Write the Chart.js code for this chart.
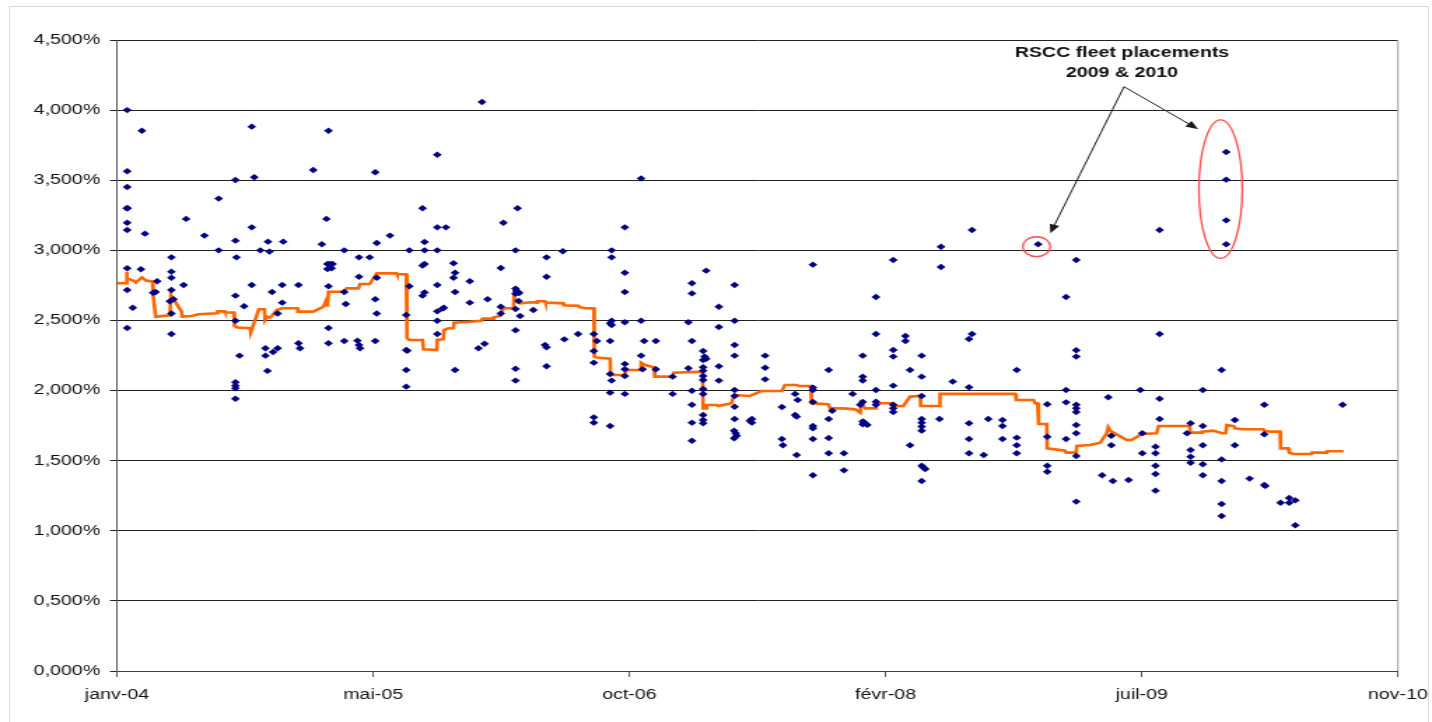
<!DOCTYPE html>
<html>
<head>
<meta charset="utf-8">
<title>RSCC fleet placements</title>
<script src="https://cdn.jsdelivr.net/npm/chart.js@4.4.1/dist/chart.umd.min.js"></script>
<style>
  html, body { margin: 0; padding: 0; background: #fff; overflow: hidden; }
  #frame { position: absolute; left: 9px; top: 6px; width: 1418px; height: 760px; border: 1px solid #d9d9d9; pointer-events: none; }
  #chart { position: absolute; left: 0; top: 0; }
</style>
</head>
<body>
<canvas id="chart" width="1023" height="722" style="width:1432px;height:722px"></canvas>
<div id="frame"></div>
<script>
// x = days since 1 Jan 2004, y = rate in %

// individual placements (blue diamonds)
const placementDays = [
  20, 49, 265, 416, 20, 386, 233, 270, 20, 200,
  19, 21, 136, 412, 20, 20, 265, 55, 172, 233,
  297, 327, 403, 200, 282, 300, 107, 235, 414, 414,
  20, 47, 107, 107, 79, 131, 265, 325, 357, 416,
  20, 107, 71, 76, 305, 233, 104, 111, 325, 31,
  250, 107, 316, 233, 416, 20, 107, 357, 360, 416,
  241, 292, 316, 307, 292, 296, 233, 233, 233, 233,

  718, 630, 508, 601, 788, 630, 647, 760, 537, 511,
  605, 447, 575, 605, 630, 784, 476, 497, 419, 424,
  422, 605, 601, 662, 755, 476, 511, 665, 662, 694,
  575, 630, 784, 786, 789, 784, 791, 447, 601, 605,
  665, 508, 729, 450, 694, 790, 755, 819, 784, 793,
  511, 569, 630, 643, 640, 755, 630, 784, 630, 447,
  473, 476, 478, 508, 569, 571, 711, 723, 569, 665,
  784, 784, 569,

  1031, 999, 973, 973, 845, 877, 845, 999, 999, 1159,
  1131, 1131, 1215, 1184, 1184, 973, 970, 973, 999, 1031,
  1124, 1215, 907, 880, 842, 845, 938, 944, 970, 1037,
  1060, 1131, 1215, 1215, 845, 938, 938, 1031, 1034, 999,
  999, 999, 1060, 970, 973, 1124, 1093, 1153, 1156, 1159,
  1153, 1153, 1153, 1153, 1153, 1153, 1153, 1184, 1184, 1131,
  970, 999, 1093, 1215, 1215, 1215, 938, 938, 970, 1131,
  1131, 1131, 1153, 1153, 1153, 1215, 1214, 1217, 1214, 1219,
  1245,

  1621, 1527, 1369, 1621, 1493, 1493, 1551, 1551, 1275, 1527,
  1527, 1467, 1583, 1275, 1400, 1560, 1275, 1467, 1467, 1583,
  1644, 1527, 1369, 1369, 1493, 1334, 1339, 1447, 1369, 1583,
  1462, 1467, 1493, 1493, 1527, 1527, 1527, 1308, 1407, 1249,
  1249, 1334, 1337, 1400, 1467, 1467, 1476, 1470, 1583, 1583,
  1583, 1583, 1618, 1369, 1369, 1308, 1310, 1369, 1400, 1560,
  1337, 1400, 1430, 1369, 1430, 1583, 1586, 1590, 1583,

  1682, 2051, 1812, 1887, 1867, 1682, 1676, 2051, 1887, 1887,
  1770, 1676, 1867, 2013, 1950, 2051, 1830, 1867, 1887, 1887,
  1887, 2051, 1714, 1742, 1742, 1676, 1887, 1887, 2017, 1676,
  1742, 1770, 1770, 1830, 1867, 1956, 1956, 2043, 2043, 1676,
  1705, 1770, 2017, 1887, 1830, 1830, 2043, 2043, 1938, 1959,
  1990, 2043, 1887,

  2182, 2182, 2182, 2182, 2173, 2136, 2257, 2411, 2199, 2112,
  2136, 2105, 2257, 2136, 2199, 2112, 2112, 2112, 2173, 2136,
  2136, 2173, 2228, 2257, 2259, 2173, 2173, 2289, 2306, 2306,
  2318, 2318
];
const placementRates = [
  4.000, 3.853, 3.882, 3.853, 3.564, 3.573, 3.502, 3.521, 3.452, 3.369,
  3.300, 3.300, 3.224, 3.224, 3.197, 3.145, 3.164, 3.119, 3.105, 3.069,
  3.062, 3.062, 3.043, 3.000, 3.000, 2.991, 2.950, 2.950, 2.903, 2.867,
  2.872, 2.865, 2.848, 2.805, 2.779, 2.753, 2.753, 2.753, 2.753, 2.744,
  2.717, 2.717, 2.698, 2.703, 2.703, 2.677, 2.637, 2.651, 2.627, 2.591,
  2.601, 2.549, 2.549, 2.498, 2.446, 2.446, 2.403, 2.337, 2.302, 2.337,
  2.249, 2.302, 2.302, 2.275, 2.249, 2.140, 2.059, 2.035, 2.016, 1.942,

  4.058, 3.682, 3.557, 3.300, 3.300, 3.164, 3.164, 3.197, 3.105, 3.052,
  3.059, 3.000, 3.000, 3.000, 3.000, 3.000, 2.950, 2.950, 2.903, 2.903,
  2.872, 2.903, 2.891, 2.908, 2.874, 2.812, 2.805, 2.840, 2.805, 2.779,
  2.744, 2.753, 2.727, 2.712, 2.703, 2.690, 2.695, 2.703, 2.677, 2.700,
  2.703, 2.651, 2.651, 2.617, 2.627, 2.639, 2.598, 2.575, 2.582, 2.532,
  2.549, 2.539, 2.565, 2.591, 2.584, 2.549, 2.498, 2.430, 2.403, 2.353,
  2.356, 2.325, 2.302, 2.353, 2.289, 2.284, 2.302, 2.334, 2.147, 2.147,
  2.156, 2.071, 2.028,

  3.513, 3.164, 3.000, 2.950, 2.950, 2.993, 2.812, 2.840, 2.703, 2.855,
  2.765, 2.693, 2.753, 2.598, 2.453, 2.498, 2.480, 2.468, 2.487, 2.498,
  2.487, 2.498, 2.403, 2.365, 2.325, 2.308, 2.403, 2.353, 2.353, 2.353,
  2.353, 2.353, 2.325, 2.249, 2.173, 2.282, 2.199, 2.249, 2.152, 2.190,
  2.152, 2.104, 2.152, 2.118, 2.071, 2.159, 2.099, 2.282, 2.242, 2.227,
  2.218, 2.166, 2.142, 2.104, 2.075, 2.011, 1.976, 2.173, 2.071, 1.999,
  1.985, 1.976, 1.976, 2.004, 1.961, 1.885, 1.809, 1.771, 1.747, 1.899,
  1.771, 1.642, 1.826, 1.790, 1.767, 1.797, 1.714, 1.695, 1.660, 1.678,
  1.785,

  3.026, 2.931, 2.898, 2.881, 2.667, 2.403, 2.389, 2.353, 2.249, 2.289,
  2.242, 2.249, 2.249, 2.163, 2.147, 2.147, 2.080, 2.099, 2.071, 2.099,
  2.064, 2.035, 2.021, 2.004, 2.004, 1.976, 1.933, 1.976, 1.918, 1.961,
  1.899, 1.918, 1.920, 1.899, 1.899, 1.873, 1.847, 1.883, 1.856, 1.797,
  1.771, 1.826, 1.814, 1.797, 1.780, 1.760, 1.755, 1.772, 1.797, 1.771,
  1.743, 1.714, 1.797, 1.747, 1.731, 1.655, 1.610, 1.655, 1.662, 1.610,
  1.540, 1.553, 1.553, 1.396, 1.431, 1.464, 1.453, 1.441, 1.355,

  3.145, 3.145, 3.043, 2.931, 2.667, 2.403, 2.368, 2.403, 2.287, 2.242,
  2.147, 2.024, 2.004, 2.004, 1.952, 1.942, 1.902, 1.916, 1.899, 1.873,
  1.847, 1.797, 1.797, 1.790, 1.747, 1.767, 1.754, 1.695, 1.695, 1.655,
  1.655, 1.664, 1.610, 1.671, 1.655, 1.678, 1.610, 1.600, 1.553, 1.553,
  1.540, 1.553, 1.553, 1.533, 1.464, 1.421, 1.464, 1.405, 1.396, 1.355,
  1.362, 1.286, 1.208,

  3.701, 3.504, 3.214, 3.043, 2.147, 2.004, 1.899, 1.899, 1.790, 1.767,
  1.747, 1.695, 1.688, 1.610, 1.610, 1.576, 1.528, 1.485, 1.509, 1.474,
  1.396, 1.355, 1.372, 1.327, 1.320, 1.191, 1.105, 1.200, 1.200, 1.234,
  1.217, 1.039
];

// running average (orange step line)
const avgDays = [
  0, 18, 19, 20, 32, 37, 49, 57, 70, 71, 76, 104, 106, 127, 128, 147, 160, 197, 198, 212,
  213, 230, 231, 237, 262, 263, 279, 290, 291, 295, 301, 308, 314, 325, 355, 356, 386, 406, 412, 414,
  416, 445, 452, 475, 478, 497, 511, 550, 551, 569, 570, 571, 575, 601, 603, 629, 630, 642, 643, 652,
  662, 663, 694, 717, 719, 740, 741, 753, 757, 760, 780, 781, 784, 793, 816, 826, 827, 842, 843, 878,
  879, 908, 911, 921, 938, 939, 944, 970, 971, 999, 1001, 1029, 1031, 1039, 1056, 1058, 1093, 1095, 1152, 1153,
  1159, 1160, 1180, 1183, 1209, 1214, 1245, 1249, 1268, 1308, 1314, 1337, 1341, 1365, 1366, 1399, 1403, 1429, 1452, 1462,
  1464, 1472, 1493, 1494, 1524, 1526, 1547, 1560, 1580, 1581, 1618, 1619, 1767, 1769, 1803, 1806, 1811, 1813, 1829, 1830,
  1865, 1867, 1887, 1888, 1914, 1934, 1947, 1950, 1954, 1980, 1986, 1996, 2016, 2045, 2049, 2110, 2112, 2133, 2135, 2156,
  2174, 2181, 2183, 2197, 2199, 2213, 2255, 2257, 2268, 2288, 2289, 2304, 2306, 2314, 2350, 2351, 2380, 2381, 2413
];
const avgRates = [
  2.765, 2.765, 2.848, 2.800, 2.784, 2.770, 2.807, 2.784, 2.777, 2.682, 2.527, 2.537, 2.682, 2.563, 2.527, 2.532, 2.544, 2.551, 2.565, 2.565,
  2.558, 2.556, 2.460, 2.450, 2.444, 2.413, 2.580, 2.580, 2.503, 2.527, 2.520, 2.546, 2.575, 2.587, 2.587, 2.563, 2.563, 2.598, 2.646, 2.598,
  2.705, 2.705, 2.729, 2.729, 2.760, 2.760, 2.836, 2.836, 2.829, 2.829, 2.408, 2.373, 2.361, 2.361, 2.294, 2.289, 2.361, 2.366, 2.432, 2.444,
  2.444, 2.484, 2.491, 2.498, 2.513, 2.513, 2.522, 2.532, 2.551, 2.587, 2.587, 2.669, 2.641, 2.622, 2.630, 2.627, 2.637, 2.637, 2.627, 2.622,
  2.608, 2.604, 2.594, 2.587, 2.587, 2.242, 2.235, 2.227, 2.111, 2.111, 2.147, 2.147, 2.199, 2.182, 2.166, 2.099, 2.099, 2.127, 2.135, 1.873,
  1.873, 1.897, 1.897, 1.890, 1.909, 1.968, 1.961, 1.968, 1.997, 1.997, 2.040, 2.040, 2.033, 2.033, 1.909, 1.902, 1.873, 1.873, 1.866, 1.842,
  1.909, 1.873, 1.873, 1.909, 1.909, 1.890, 1.890, 1.957, 1.961, 1.890, 1.890, 1.976, 1.976, 1.933, 1.933, 1.909, 1.909, 1.762, 1.762, 1.588,
  1.571, 1.557, 1.557, 1.605, 1.612, 1.628, 1.695, 1.738, 1.714, 1.660, 1.648, 1.648, 1.690, 1.695, 1.747, 1.747, 1.700, 1.700, 1.707, 1.714,
  1.695, 1.695, 1.754, 1.747, 1.731, 1.724, 1.724, 1.714, 1.707, 1.707, 1.588, 1.588, 1.557, 1.548, 1.548, 1.557, 1.557, 1.567, 1.567
];

// axis
const monthNames = ['janv', 'févr', 'mars', 'avr', 'mai', 'juin', 'juil', 'août', 'sept', 'oct', 'nov', 'déc'];
const axisStart = Date.UTC(2004, 0, 1);
const axisDays = 2520;
const axisStep = 504;

// annotation
const noteLines = ['RSCC fleet placements', '2009 & 2010'];
const noteAt = {day: 1977, rate: 4.407};
const arrowFrom = {day: 1981, rate: 4.167};
const arrowTips = [{day: 1836, rate: 3.121}, {day: 2127, rate: 3.863}];
const rings = [
  {day: 1809, rate: 3.026, dd: 27, dr: 0.071},
  {day: 2171, rate: 3.436, dd: 42.7, dr: 0.494}
];

function monthLabel(day) {
  const d = new Date(axisStart + day * 86400000);
  return monthNames[d.getUTCMonth()] + '-' + String(d.getUTCFullYear()).slice(2);
}

function pctLabel(v) {
  return v.toFixed(3).replace('.', ',') + '%';
}

const extras = {
  id: 'extras',
  afterDatasetsDraw(chart) {
    const {ctx, chartArea: a, scales: {x, y}} = chart;
    ctx.save();

    // right border of the plot
    ctx.strokeStyle = '#9a9a9a';
    ctx.lineWidth = 1;
    ctx.beginPath();
    ctx.moveTo(a.right, a.top);
    ctx.lineTo(a.right, a.bottom);
    ctx.stroke();

    // red rings
    ctx.strokeStyle = '#ff4d4d';
    ctx.lineWidth = 1.3;
    rings.forEach(r => {
      const cx = x.getPixelForValue(r.day), cy = y.getPixelForValue(r.rate);
      const rx = x.getPixelForValue(r.day + r.dd) - cx;
      const ry = cy - y.getPixelForValue(r.rate + r.dr);
      ctx.beginPath();
      ctx.ellipse(cx, cy, rx, ry, 0, 0, Math.PI * 2);
      ctx.stroke();
    });

    // arrows
    ctx.strokeStyle = '#1a1a1a';
    ctx.fillStyle = '#1a1a1a';
    ctx.lineWidth = 1;
    const fx = x.getPixelForValue(arrowFrom.day), fy = y.getPixelForValue(arrowFrom.rate);
    arrowTips.forEach(t => {
      const tx = x.getPixelForValue(t.day), ty = y.getPixelForValue(t.rate);
      const ang = Math.atan2(ty - fy, tx - fx);
      const len = 9, half = 3.6;
      const bx = tx - len * Math.cos(ang), by = ty - len * Math.sin(ang);
      ctx.beginPath();
      ctx.moveTo(fx, fy);
      ctx.lineTo(bx, by);
      ctx.stroke();
      ctx.beginPath();
      ctx.moveTo(tx, ty);
      ctx.lineTo(bx + half * Math.sin(ang), by - half * Math.cos(ang));
      ctx.lineTo(bx - half * Math.sin(ang), by + half * Math.cos(ang));
      ctx.closePath();
      ctx.fill();
    });

    // note text
    ctx.fillStyle = '#111';
    ctx.font = 'bold 14px "Liberation Sans", Arial, sans-serif';
    ctx.textAlign = 'center';
    ctx.textBaseline = 'middle';
    noteLines.forEach((t, i) => {
      ctx.fillText(t, x.getPixelForValue(noteAt.day), y.getPixelForValue(noteAt.rate) + i * 20);
    });

    ctx.restore();
  }
};

Chart.defaults.font.family = '"Liberation Sans", Arial, sans-serif';
Chart.defaults.color = '#111';

const ctx = document.getElementById('chart');

new Chart(ctx, {
  type: 'scatter',
  data: {
    datasets: [{
      label: 'Placements',
      data: placementDays.map((d, i) => ({x: d, y: placementRates[i]})),
      pointStyle: 'rectRot',
      pointRadius: 3.2,
      borderWidth: 0,
      pointBorderWidth: 0,
      backgroundColor: '#000080',
      borderColor: '#000080',
      order: 0
    },
    {
      label: 'Average',
      data: avgDays.map((d, i) => ({x: d, y: avgRates[i]})),
      showLine: true,
      borderColor: '#ff6600',
      borderWidth: 2.6,
      pointRadius: 0,
      tension: 0,
      order: 1
    }]
  },
  options: {
    responsive: false,
    animation: false,
    devicePixelRatio: 1,
    layout: {
      padding: {left: 0, right: 24.3, top: 40, bottom: 0}
    },
    plugins: {
      legend: {display: false},
      tooltip: {enabled: false}
    },
    scales: {
      x: {
        type: 'linear',
        min: 0,
        max: axisDays,
        afterFit(s) {
          s.height = 51;
          s.paddingLeft = 0;
          s.paddingRight = 0;
        },
        ticks: {
          stepSize: axisStep,
          autoSkip: false,
          maxRotation: 0,
          padding: 10,
          font: {size: 14},
          callback: v => monthLabel(v)
        },
        grid: {
          drawOnChartArea: false,
          drawTicks: true,
          tickLength: 6,
          color: '#555'
        },
        border: {color: '#444', width: 1}
      },
      y: {
        min: 0,
        max: 4.5,
        afterFit(s) { s.width = 83.58; },
        ticks: {
          stepSize: 0.5,
          padding: 7,
          font: {size: 14},
          callback: v => pctLabel(v)
        },
        grid: {
          color: '#222',
          lineWidth: 1,
          tickLength: 5
        },
        border: {color: '#555', width: 1}
      }
    }
  },
  plugins: [extras]
});
</script>
</body>
</html>
